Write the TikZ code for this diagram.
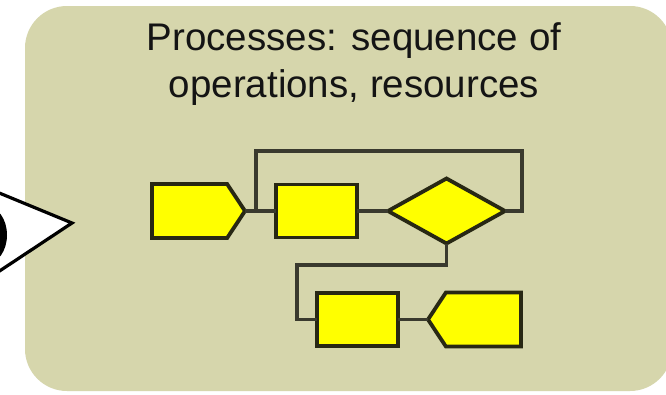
\documentclass[tikz,border=0pt]{standalone}
\usepackage{fontspec}
\setmainfont{Liberation Sans}
\usetikzlibrary{shapes.geometric,shapes.symbols}
\definecolor{panel}{RGB}{214,214,172}
\definecolor{boxline}{RGB}{40,40,20}
\definecolor{wire}{RGB}{58,58,46}
\definecolor{boxfill}{RGB}{255,255,0}
\tikzset{
  stepbox/.style={draw=boxline, fill=boxfill, line width=3.8pt, inner sep=0pt, outer sep=0pt},
  opbox/.style={stepbox, rectangle, minimum width=81pt, minimum height=53pt},
  decbox/.style={stepbox, diamond, minimum width=117pt, minimum height=65pt},
  flag/.style={stepbox, signal, signal pointer angle=113, minimum width=93pt, minimum height=54pt},
  wireline/.style={draw=wire, line width=3.6pt},
  caption/.style={font=\fontsize{38.5}{44}\selectfont, text=black!92, anchor=base, inner sep=0pt}
}
\begin{document}
\begin{tikzpicture}[x=1pt, y=-1pt]
  \useasboundingbox (0,0) rectangle (666,394);
  \clip (0,0) rectangle (666,394);
  \fill[white] (0,0) rectangle (666,394);

  % background panel
  \fill[panel] (25,6) [rounded corners=42pt] -- (25,391) -- (672,391) -- (672,6) -- cycle;

  % viewer on the left: view cone and pupil
  \draw[black, line width=3.2pt, fill=white, line join=miter] (-8,190) -- (72,223) -- (-8,276);
  \fill[black] (-14,235) ellipse [x radius=21, y radius=29];

  % caption
  \node[caption] (t1) at (354,50) {Processes: sequence of};
  \node[caption] (t2) at (354,97) {operations, resources};

  % process steps
  \node[flag, signal to=east, anchor=east] (p1) at (245,211) {};
  \node[opbox] (r1) at (316.5,211) {};
  \node[decbox] (d) at (446.5,211) {};
  \node[opbox] (r2) at (357.5,319.5) {};
  \node[flag, signal to=west, anchor=west] (p2) at (428,319.5) {};

  % connectors
  \coordinate (lt) at (256,151);
  \coordinate (rt) at (522,151);
  \coordinate (bend) at (297,265);
  \draw[wireline] (p1.east) -- (r1.west);
  \draw[wireline] (lt |- p1.east) -- (lt) -- (rt) -- (rt |- d.east) -- (d.east);
  \draw[wireline] (r1.east) -- (d.west);
  \draw[wireline] (d.south) |- (bend) |- (r2.west);
  \draw[wireline] (r2.east) -- (p2.west);
\end{tikzpicture}
\end{document}
